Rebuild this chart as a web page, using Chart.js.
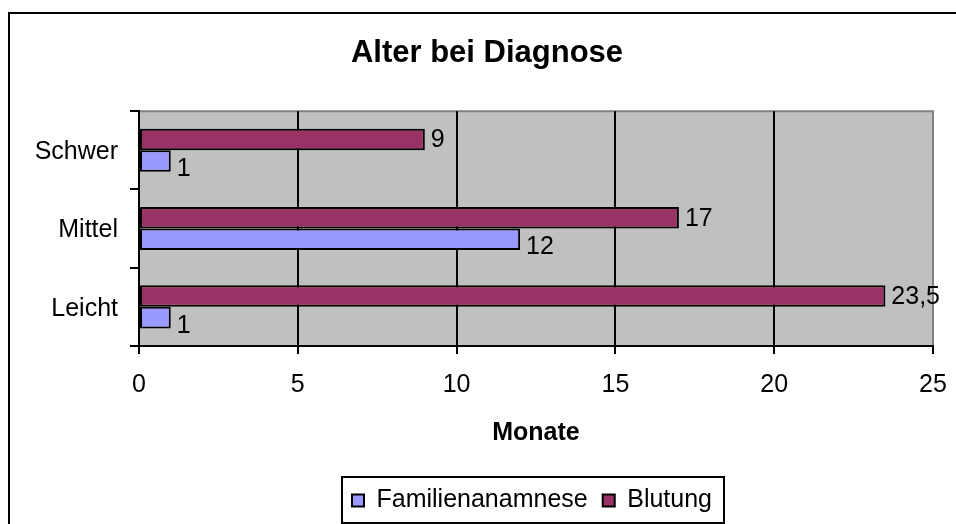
<!DOCTYPE html>
<html>
<head>
<meta charset="utf-8">
<script src="https://cdn.jsdelivr.net/npm/chart.js@4.4.1/dist/chart.umd.min.js"></script>
<style>
  body { margin: 0; background: #fff; overflow: hidden; width: 956px; height: 524px; }
  #frame { position: absolute; left: 8px; top: 12px; width: 1000px; height: 600px; border: 2px solid #000; }
  #c { position: absolute; left: 10px; top: 14px; }
</style>
</head>
<body>
<div id="frame"></div>
<canvas id="c" width="954" height="510"></canvas>
<script>
var categories = ['Schwer', 'Mittel', 'Leicht']
var blutung = [9, 17, 23.5]
var familienanamnese = [1, 12, 1]
var xTicks = [0, 5, 10, 15, 20, 25]

Chart.defaults.font.family = '"Liberation Sans", Arial, sans-serif'
Chart.defaults.color = '#000'

// grauer Plotbereich
var plotBg = {
    id: 'plotBg',
    afterLayout: function(chart){
        // Platz fuer die Kategorienbeschriftung links (sonst abgeschnitten)
        chart.scales.y.left = 0
        chart.legend.left -= 4
        chart.legend.right -= 4
    },
    beforeDraw: function(chart){
        var a = chart.chartArea, ctx = chart.ctx
        ctx.save()
        ctx.fillStyle = '#C0C0C0'
        ctx.fillRect(a.left, a.top, a.right - a.left, a.bottom - a.top)
        ctx.strokeStyle = '#808080'
        ctx.lineWidth = 2
        ctx.beginPath()
        ctx.moveTo(a.left, a.top)
        ctx.lineTo(a.right, a.top)
        ctx.lineTo(a.right, a.bottom)
        ctx.stroke()
        ctx.restore()
    }
}

// Werte rechts neben den Balken
var valueLabels = {
    id: 'valueLabels',
    afterDatasetsDraw: function(chart){
        var ctx = chart.ctx
        ctx.save()
        ctx.font = '25px "Liberation Sans", Arial, sans-serif'
        ctx.fillStyle = '#000'
        ctx.textBaseline = 'middle'
        chart.data.datasets.forEach(function(ds, i){
            var dy = i === 0 ? 1 : 8
            chart.getDatasetMeta(i).data.forEach(function(bar, j){
                var txt = String(ds.data[j]).replace('.', ',')
                ctx.fillText(txt, bar.x + 6, bar.y + dy)
            })
        })
        ctx.restore()
    }
}

// Rahmen um die Legende
var legendBox = {
    id: 'legendBox',
    afterDraw: function(chart){
        var hb = chart.legend.legendHitBoxes
        if (!hb || !hb.length) return
        var l = hb[0].left, r = hb[hb.length-1].left + hb[hb.length-1].width
        var t = hb[0].top, b = hb[0].top + hb[0].height
        var ctx = chart.ctx
        ctx.save()
        ctx.strokeStyle = '#000'
        ctx.lineWidth = 2
        ctx.strokeRect(l - 10, t - 11, r - l + 22, b - t + 21)
        ctx.restore()
    }
}

var ctx = document.getElementById('c').getContext('2d')
var chart = new Chart(ctx, {
    type: 'bar',
    data: {
        labels: categories,
        datasets: [
            {
                label: 'Blutung',
                data: blutung,
                backgroundColor: '#993366',
                borderColor: '#000',
                borderWidth: 2,
                borderSkipped: false
            },
            {
                label: 'Familienanamnese',
                data: familienanamnese,
                backgroundColor: '#9999FF',
                borderColor: '#000',
                borderWidth: 2,
                borderSkipped: false
            }
        ]
    },
    options: {
        indexAxis: 'y',
        responsive: false,
        animation: false,
        categoryPercentage: 0.55,
        barPercentage: 1.0,
        layout: { padding: { left: 31, right: 31, top: 0, bottom: 1 } },
        plugins: {
            title: {
                display: true,
                text: 'Alter bei Diagnose',
                font: { size: 31, weight: 'bold' },
                color: '#000',
                padding: { top: 21, bottom: 39 }
            },
            legend: {
                position: 'bottom',
                fullSize: false,
                reverse: true,
                labels: {
                    font: { size: 25 },
                    boxWidth: 12,
                    boxHeight: 12,
                    padding: 15,
                    color: '#000'
                }
            },
            tooltip: { enabled: false }
        },
        scales: {
            x: {
                min: 0,
                max: 25,
                afterBuildTicks: function(scale){
                    scale.ticks = xTicks.map(function(v){ return { value: v } })
                },
                grid: {
                    color: function(c){ return c.tick && c.tick.value === 25 ? '#808080' : '#000' },
                    tickColor: '#000',
                    lineWidth: 2,
                    tickLength: 8
                },
                border: { color: '#000', width: 2 },
                ticks: { font: { size: 25 }, padding: 16, color: '#000', maxRotation: 0 },
                title: {
                    display: true,
                    text: 'Monate',
                    font: { size: 25, weight: 'bold' },
                    color: '#000',
                    padding: { top: 2, bottom: 25 }
                }
            },
            y: {
                grid: {
                    drawOnChartArea: false,
                    color: '#000',
                    lineWidth: 2,
                    tickLength: 9
                },
                border: { color: '#000', width: 2 },
                ticks: { font: { size: 25 }, padding: 12, color: '#000', labelOffset: 2 },
                afterFit: function(scale){ scale.width = 98 }
            }
        }
    },
    plugins: [plotBg, valueLabels, legendBox]
})
</script>
</body>
</html>
